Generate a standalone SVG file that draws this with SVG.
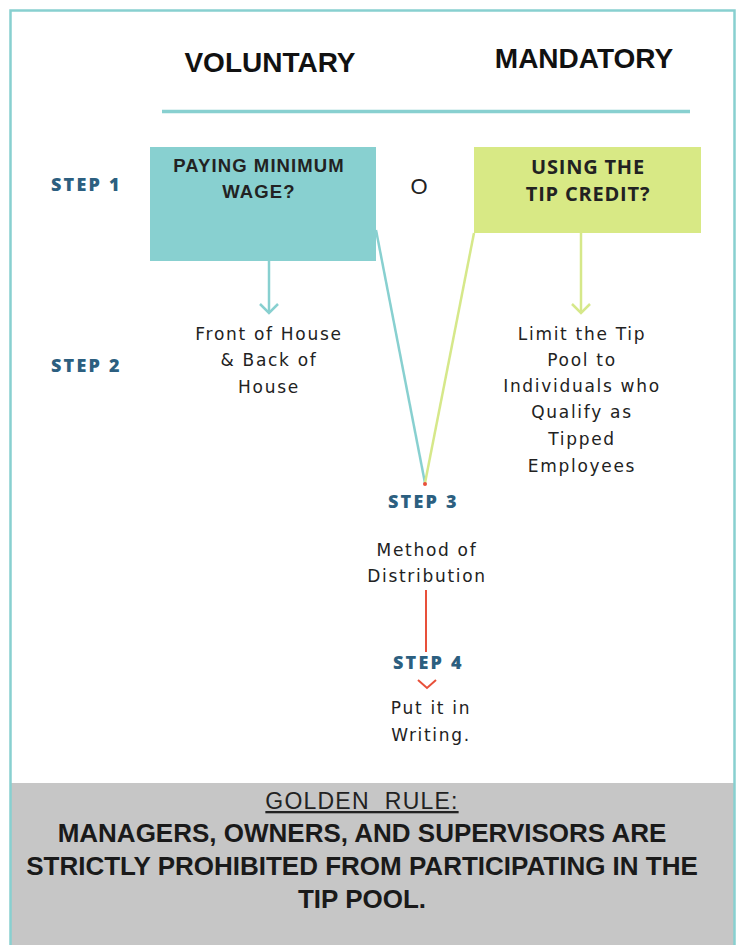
<svg xmlns="http://www.w3.org/2000/svg" width="739" height="945" viewBox="0 0 739 945">
  <defs>
    <style>
      .head { font-family: "Liberation Sans", Arial, sans-serif; font-size: 28px; font-weight: 600; fill: #111; text-anchor: middle; }
      .step { font-family: "Open Sans", "DejaVu Sans", sans-serif; font-size: 18px; font-weight: 800; fill: #2c5f80; letter-spacing: 2.2px; }
      .box { font-family: "Liberation Sans", Arial, sans-serif; font-size: 18.5px; font-weight: 600; fill: #222; text-anchor: middle; letter-spacing: 1.1px; }
      .boxb { font-family: "Open Sans", "Liberation Sans", sans-serif; font-size: 20px; font-weight: 700; fill: #222; text-anchor: middle; letter-spacing: 0.8px; }
      .body { font-family: "DejaVu Sans", "Noto Sans", sans-serif; font-size: 17px; fill: #222; text-anchor: middle; letter-spacing: 1.7px; }
      .rule { font-family: "Liberation Sans", Arial, sans-serif; font-size: 26px; font-weight: 700; fill: #1a1a1a; text-anchor: middle; }
      .teal { stroke: #88d0d0; stroke-width: 2.5; fill: none; }
      .lime { stroke: #d6e88a; stroke-width: 2.5; fill: none; }
      .red { stroke: #e8503a; stroke-width: 2; fill: none; }
    </style>
  </defs>

  <rect x="0" y="0" width="739" height="945" fill="#ffffff"/>

  <!-- grey golden-rule panel -->
  <rect id="golden-rule-panel" x="11" y="783" width="723" height="162" fill="#c6c6c6"/>

  <!-- outer frame -->
  <path d="M10.5 945 V10.5 H734.5 V945" fill="none" stroke="#88d0d0" stroke-width="2.5"/>

  <!-- column headings -->
  <text class="head" x="270" y="72">VOLUNTARY</text>
  <text class="head" x="584" y="68">MANDATORY</text>
  <line x1="162" y1="111.5" x2="690" y2="111.5" stroke="#88d0d0" stroke-width="3.5"/>

  <!-- step labels -->
  <g id="step-labels">
    <text class="step" x="51" y="191">STEP 1</text>
    <text class="step" x="51" y="372">STEP 2</text>
    <text class="step" x="388" y="508">STEP 3</text>
    <text class="step" x="393" y="669">STEP 4</text>
  </g>

  <!-- connectors -->
  <g id="connectors">
    <line class="teal" x1="269" y1="261" x2="269" y2="313"/>
    <polyline class="teal" points="260,304 269,313 278,304"/>
    <line class="lime" x1="581" y1="233" x2="581" y2="313"/>
    <polyline class="lime" points="572,304 581,313 590,304"/>
    <line class="teal" x1="376" y1="230" x2="425" y2="483"/>
    <line class="lime" x1="474" y1="233" x2="425" y2="483"/>
    <circle cx="425" cy="484" r="2" fill="#e8503a"/>
    <line class="red" x1="426" y1="590" x2="426" y2="652"/>
    <polyline class="red" points="418,680 427,688 436,680"/>
  </g>

  <g id="node-minimum-wage">
    <rect x="150" y="147" width="226" height="114" fill="#88d0d0"/>
    <text class="box" x="259" y="172">PAYING MINIMUM</text>
    <text class="box" x="259" y="198">WAGE?</text>
  </g>

  <g id="node-or">
    <text x="419" y="194" font-family="Liberation Sans, Arial, sans-serif" font-size="22" fill="#222" text-anchor="middle">O</text>
  </g>

  <g id="node-tip-credit">
    <rect x="474" y="147" width="227" height="86" fill="#d8e985"/>
    <text class="boxb" x="588" y="174">USING THE</text>
    <text class="boxb" x="588" y="201">TIP CREDIT?</text>
  </g>

  <g id="node-front-back">
    <text class="body" x="269" y="340">Front of House</text>
    <text class="body" x="269" y="366">&amp; Back of</text>
    <text class="body" x="269" y="393">House</text>
  </g>

  <g id="node-limit-pool">
    <text class="body" x="582" y="340">Limit the Tip</text>
    <text class="body" x="582" y="366">Pool to</text>
    <text class="body" x="582" y="392">Individuals who</text>
    <text class="body" x="582" y="418">Qualify as</text>
    <text class="body" x="582" y="445">Tipped</text>
    <text class="body" x="582" y="472">Employees</text>
  </g>

  <g id="node-distribution">
    <text class="body" x="427" y="556">Method of</text>
    <text class="body" x="427" y="582">Distribution</text>
  </g>

  <g id="node-writing">
    <text class="body" x="431" y="714">Put it in</text>
    <text class="body" x="431" y="741">Writing.</text>
  </g>

  <g id="node-golden-rule">
    <text x="362" y="809" font-family="Liberation Sans, Arial, sans-serif" font-size="23" letter-spacing="1.2" fill="#222" text-anchor="middle" text-decoration="underline" xml:space="preserve">GOLDEN  RULE:</text>
    <text class="rule" x="362" y="842">MANAGERS, OWNERS, AND SUPERVISORS ARE</text>
    <text class="rule" x="362" y="875">STRICTLY PROHIBITED FROM PARTICIPATING IN THE</text>
    <text class="rule" x="362" y="908">TIP POOL.</text>
  </g>
</svg>
